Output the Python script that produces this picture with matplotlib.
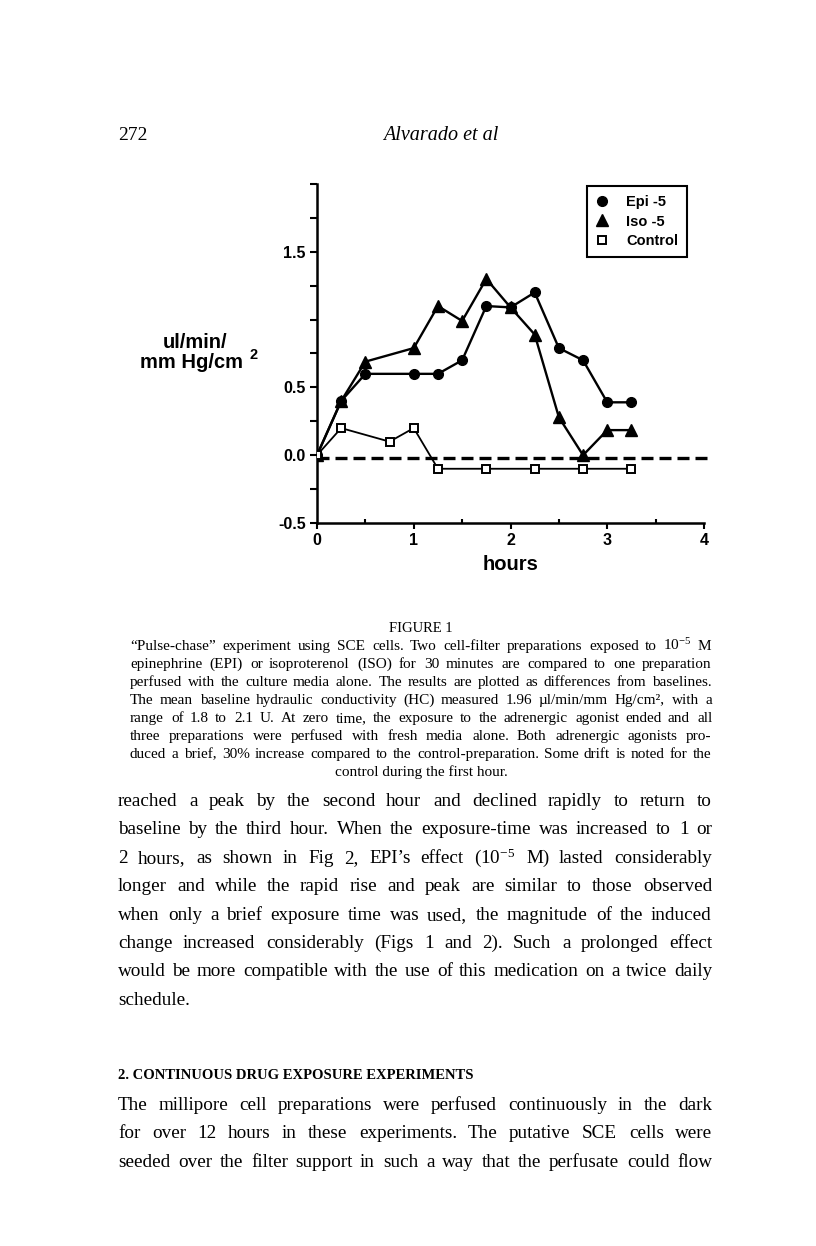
import matplotlib
matplotlib.use("Agg")
import matplotlib.pyplot as plt
from matplotlib.ticker import MultipleLocator, FixedLocator

plt.rcParams["font.family"] = "Liberation Sans"
plt.rcParams["mathtext.fontset"] = "custom"
plt.rcParams["mathtext.rm"] = "Liberation Serif"
plt.rcParams["mathtext.it"] = "Liberation Serif:italic"

# data (hours, difference from baseline)
epi_t = [0, 0.25, 0.5, 1.0, 1.25, 1.5, 1.75, 2.0, 2.25, 2.5, 2.75, 3.0, 3.25]
epi_v = [0, 0.40, 0.60, 0.60, 0.60, 0.70, 1.10, 1.09, 1.20, 0.79, 0.70, 0.39, 0.39]
iso_t = [0, 0.25, 0.5, 1.0, 1.25, 1.5, 1.75, 2.0, 2.25, 2.5, 2.75, 3.0, 3.25]
iso_v = [0, 0.40, 0.69, 0.79, 1.10, 0.99, 1.30, 1.09, 0.89, 0.28, 0.0, 0.185, 0.185]
ctl_t = [0, 0.25, 0.75, 1.0, 1.25, 1.75, 2.25, 2.75, 3.25]
ctl_v = [0, 0.20, 0.10, 0.20, -0.10, -0.10, -0.10, -0.10, -0.10]
baseline = -0.02

yticks = [-0.5, -0.25, 0.0, 0.25, 0.5, 0.75, 1.0, 1.25, 1.5, 1.75, 2.0]
ylabels = {-0.5: "-0.5", 0.0: "0.0", 0.5: "0.5", 1.5: "1.5"}

caption = [
    "\u201cPulse-chase\u201d experiment using SCE cells. Two cell-filter preparations exposed to 10$^{-5}$ M",
    "epinephrine (EPI) or isoproterenol (ISO) for 30 minutes are compared to one preparation",
    "perfused with the culture media alone. The results are plotted as differences from baselines.",
    "The mean baseline hydraulic conductivity (HC) measured 1.96 \u00b5l/min/mm Hg/cm\u00b2, with a",
    "range of 1.8 to 2.1 U. At zero time, the exposure to the adrenergic agonist ended and all",
    "three preparations were perfused with fresh media alone. Both adrenergic agonists pro-",
    "duced a brief, 30% increase compared to the control-preparation. Some drift is noted for the",
]
caption_last = "control during the first hour."

body1 = [
    "reached a peak by the second hour and declined rapidly to return to",
    "baseline by the third hour. When the exposure-time was increased to 1 or",
    "2 hours, as shown in Fig 2, EPI\u2019s effect (10$^{-5}$ M) lasted considerably",
    "longer and while the rapid rise and peak are similar to those observed",
    "when only a brief exposure time was used, the magnitude of the induced",
    "change increased considerably (Figs 1 and 2). Such a prolonged effect",
    "would be more compatible with the use of this medication on a twice daily",
]
body1_last = "schedule."
heading = "2. CONTINUOUS DRUG EXPOSURE EXPERIMENTS"
body2 = [
    "The millipore cell preparations were perfused continuously in the dark",
    "for over 12 hours in these experiments. The putative SCE cells were",
    "seeded over the filter support in such a way that the perfusate could flow",
]

W, H = 816, 1246
fig = plt.figure(figsize=(W / 100, H / 100), dpi=100)
renderer = fig.canvas.get_renderer()
serif = "Liberation Serif"


def put_line(line, y, x0, x1, size, justify=True, **kw):
    # words placed one by one so the line is justified; baseline snapped to a pixel
    y = round(y)
    words = line.split(" ")
    texts = [fig.text(0, (H - y) / H, w, fontsize=size, family=serif,
                      va="baseline", ha="left", **kw) for w in words]
    widths = [t.get_window_extent(renderer).width for t in texts]
    if justify and len(words) > 1:
        gap = (x1 - x0 - sum(widths)) / (len(words) - 1)
    else:
        gap = size * 0.25 * 100 / 72
    x = x0
    for t, w in zip(texts, widths):
        t.set_x(round(x) / W)
        x += w + gap


# page header
fig.text(118 / W, (H - 140) / H, "272", fontsize=14, family=serif, va="baseline")
fig.text(441 / W, (H - 140) / H, "Alvarado et al", fontsize=14.5, family=serif,
         style="italic", va="baseline", ha="center")

# chart
ax = fig.add_axes([317 / W, 1 - 523 / H, 387 / W, 339 / H])
ax.plot(epi_t, epi_v, "-o", color="black", lw=1.7, ms=7, label="Epi -5", zorder=4)
ax.plot(iso_t, iso_v, "-^", color="black", lw=1.7, ms=8.5, label="Iso -5", zorder=4)
ax.plot(ctl_t, ctl_v, "-s", color="black", lw=1.3, ms=6, mfc="white", mew=1.4,
        label="Control", zorder=5)
ax.plot([0, 4.08], [baseline, baseline], color="black", lw=2.4, ls=(0, (3.6, 1.8)),
        clip_on=False, zorder=3)

ax.set_xlim(0, 4)
ax.set_ylim(-0.5, 2.0)
for s in ["top", "right"]:
    ax.spines[s].set_visible(False)
for s in ["left", "bottom"]:
    ax.spines[s].set_linewidth(1.8)

ax.xaxis.set_major_locator(FixedLocator([0, 1, 2, 3, 4]))
ax.xaxis.set_minor_locator(MultipleLocator(0.5))
ax.tick_params(axis="x", which="major", direction="out", length=4, width=1.5,
               labelsize=11.5, pad=3)
ax.tick_params(axis="x", which="minor", direction="in", length=3, width=1.5)
ax.set_xticklabels(["0", "1", "2", "3", "4"], fontweight="bold")

ax.yaxis.set_major_locator(FixedLocator(yticks))
ax.set_yticklabels([ylabels.get(v, "") for v in yticks], fontweight="bold")
ax.tick_params(axis="y", direction="out", length=5, width=1.5, labelsize=11.5, pad=3)

ax.set_xlabel("hours", fontsize=14.5, fontweight="bold", labelpad=5)

fig.text(195 / W, 1 - 343 / H, "ul/min/", fontsize=14.5, fontweight="bold",
         ha="center", va="center")
fig.text(192 / W, 1 - 363 / H, "mm Hg/cm", fontsize=14.5, fontweight="bold",
         ha="center", va="center")
fig.text(254 / W, 1 - 355 / H, "2", fontsize=10.5, fontweight="bold",
         ha="center", va="center")

leg = ax.legend(loc="upper left", bbox_to_anchor=((587 - 317) / 387, 1 - (186 - 184) / 339),
                frameon=True, fancybox=False, edgecolor="black", framealpha=1,
                prop={"weight": "bold", "size": 10.5}, handlelength=0.8,
                handletextpad=1.3, borderpad=0.6, labelspacing=0.4,
                borderaxespad=0)
leg.get_frame().set_linewidth(1.5)
for line in leg.get_lines():
    line.set_linestyle("none")

# caption
fig.text(421 / W, (H - 632) / H, "FIGURE 1", fontsize=10.5, family=serif,
         va="baseline", ha="center")
for i, line in enumerate(caption):
    put_line(line, 650 + i * 18, 130, 712, 11)
fig.text(421 / W, (H - (650 + 7 * 18)) / H, caption_last, fontsize=11,
         family=serif, va="baseline", ha="center")

for i, line in enumerate(body1):
    put_line(line, 806 + i * 28.4, 118, 712, 13.8)
put_line(body1_last, 806 + 7 * 28.4, 118, 712, 13.8, justify=False)

fig.text(118 / W, (H - 1079) / H, heading, fontsize=10.5, family=serif,
         fontweight="bold", va="baseline")
for i, line in enumerate(body2):
    put_line(line, 1110 + i * 28.4, 118, 712, 13.8)

fig.savefig("out.png", dpi=100)
